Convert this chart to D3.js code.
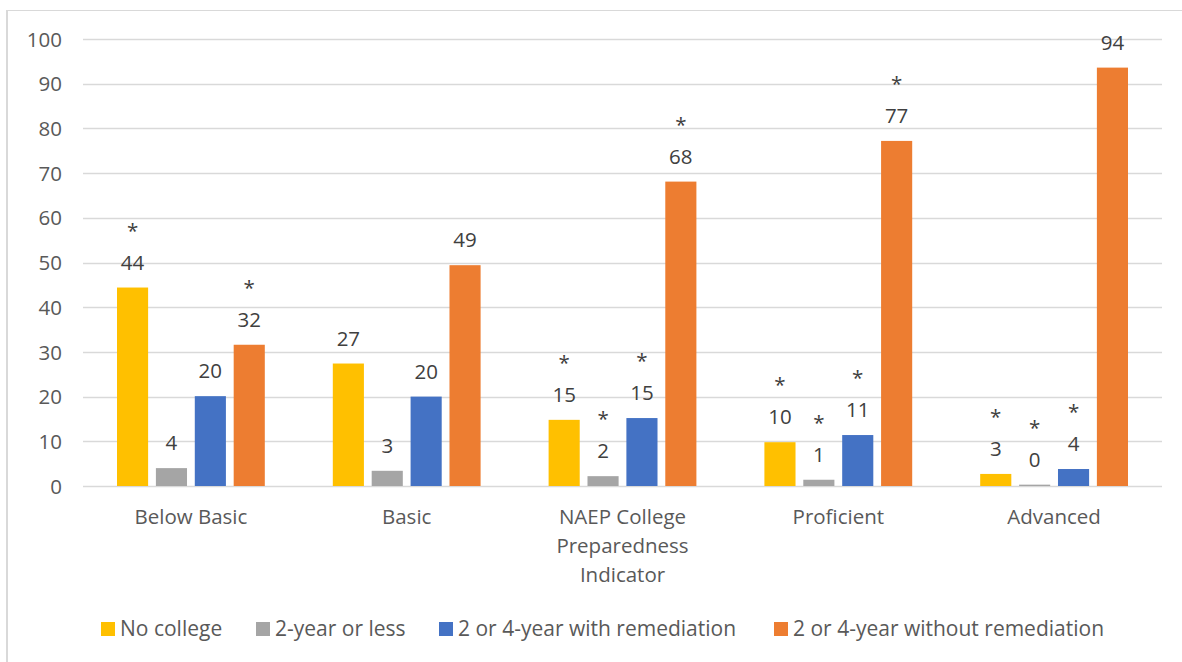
<!DOCTYPE html>
<html>
<head>
<meta charset="utf-8">
<script src="https://cdn.jsdelivr.net/npm/d3@7"></script>
<style>
  html, body { margin: 0; padding: 0; background: #fff; }
  svg { display: block; }
  text { font-family: "Open Sans", "Noto Sans", sans-serif; }
</style>
</head>
<body>
<svg id="chart" width="1182" height="662"></svg>
<script>
// Achievement levels along the x axis
const categories = ["Below Basic", "Basic", "NAEP College Preparedness Indicator", "Proficient", "Advanced"];
const categoryLines = [["Below Basic"], ["Basic"], ["NAEP College", "Preparedness", "Indicator"], ["Proficient"], ["Advanced"]];

// Post-secondary outcome series
const seriesNames = ["No college", "2-year or less", "2 or 4-year with remediation", "2 or 4-year without remediation"];
const seriesColors = ["#FFC000", "#A5A5A5", "#4472C4", "#ED7D31"];

// Percent of students, one array per series (ordered by category)
const noCollege      = [44.4, 27.4, 14.8, 9.8, 2.7];
const twoYearOrLess  = [4.0, 3.4, 2.2, 1.4, 0.3];
const withRemed      = [20.1, 20.0, 15.2, 11.4, 3.8];
const withoutRemed   = [31.6, 49.4, 68.1, 77.2, 93.6];

// Statistically significant differences are flagged with an asterisk
const sigNoCollege     = [true, false, true, true, true];
const sigTwoYear       = [false, false, true, true, true];
const sigWithRemed     = [false, false, true, true, true];
const sigWithoutRemed  = [true, false, true, true, false];

const yTicks = [0, 10, 20, 30, 40, 50, 60, 70, 80, 90, 100];

const seriesValues = [noCollege, twoYearOrLess, withRemed, withoutRemed];
const seriesSig = [sigNoCollege, sigTwoYear, sigWithRemed, sigWithoutRemed];

const FS = 20.5;
const LEGEND_FS = 21;
const svg = d3.select("#chart");

// outer frame (top and left edges visible)
svg.append("line").attr("x1", 7).attr("x2", 1182).attr("y1", 10.5).attr("y2", 10.5)
  .attr("stroke", "#d9d9d9").attr("stroke-width", 1);
svg.append("line").attr("x1", 7).attr("x2", 7).attr("y1", 10).attr("y2", 662)
  .attr("stroke", "#d9d9d9").attr("stroke-width", 2);

const plot = { left: 83, right: 1162, top: 39, bottom: 486 };

const x0 = d3.scaleBand().domain(categories).range([plot.left, plot.right]).paddingInner(0).paddingOuter(0);
const x1 = d3.scaleBand().domain(seriesNames).range([34, x0.bandwidth() - 34]).paddingInner(0.2).paddingOuter(0);
const y = d3.scaleLinear().domain([0, 100]).range([plot.bottom, plot.top]);

// horizontal gridlines
svg.append("g").selectAll("line").data(yTicks).join("line")
  .attr("x1", plot.left).attr("x2", plot.right)
  .attr("y1", d => Math.round(y(d)) + 0.5).attr("y2", d => Math.round(y(d)) + 0.5)
  .attr("stroke", "#d9d9d9").attr("stroke-width", 1.3);

// y axis labels
const yAxis = d3.axisLeft(y).tickValues(yTicks).tickSize(0).tickPadding(0);
const yg = svg.append("g").attr("transform", `translate(${plot.left - 21},0)`).call(yAxis);
yg.select(".domain").remove();
yg.selectAll("text").attr("font-size", FS).attr("fill", "#595959")
  .attr("font-family", "'Open Sans', sans-serif").attr("dy", "0.35em");

// category labels
const xg = svg.append("g");
categories.forEach((c, i) => {
  const t = xg.append("text")
    .attr("x", x0(c) + x0.bandwidth() / 2)
    .attr("y", 524)
    .attr("text-anchor", "middle")
    .attr("font-size", FS).attr("fill", "#595959");
  categoryLines[i].forEach((ln, k) => {
    t.append("tspan").attr("x", x0(c) + x0.bandwidth() / 2).attr("dy", k === 0 ? 0 : 29).text(ln);
  });
});

// bars
const rows = categories.map((c, i) => ({
  cat: c,
  vals: seriesNames.map((s, j) => ({ s, j, v: seriesValues[j][i], sig: seriesSig[j][i] }))
}));

const groups = svg.append("g").selectAll("g").data(rows).join("g")
  .attr("transform", d => `translate(${x0(d.cat)},0)`);

groups.selectAll("rect").data(d => d.vals).join("rect")
  .attr("x", d => x1(d.s))
  .attr("width", x1.bandwidth())
  .attr("y", d => y(d.v))
  .attr("height", d => y(0) - y(d.v))
  .attr("fill", d => seriesColors[d.j]);

// value labels with significance markers
const fmt = d3.format(".0f");
groups.selectAll("text.val").data(d => d.vals).join("text")
  .attr("class", "val")
  .attr("x", d => x1(d.s) + x1.bandwidth() / 2)
  .attr("y", d => y(d.v) - 18)
  .attr("text-anchor", "middle")
  .attr("font-size", FS).attr("fill", "#404040")
  .text(d => fmt(d.v));

groups.selectAll("text.sig").data(d => d.vals.filter(v => v.sig)).join("text")
  .attr("class", "sig")
  .attr("x", d => x1(d.s) + x1.bandwidth() / 2)
  .attr("y", d => y(d.v) - 50)
  .attr("text-anchor", "middle")
  .attr("font-size", FS).attr("fill", "#404040")
  .text("*");

// legend
const legendX = [101, 256, 439, 774];
const lg = svg.append("g");
seriesNames.forEach((s, j) => {
  lg.append("rect").attr("x", legendX[j]).attr("y", 622).attr("width", 14).attr("height", 14)
    .attr("fill", seriesColors[j]);
  lg.append("text").attr("x", legendX[j] + 19).attr("y", 636)
    .attr("font-size", LEGEND_FS).attr("fill", "#595959").text(s);
});
</script>
</body>
</html>
